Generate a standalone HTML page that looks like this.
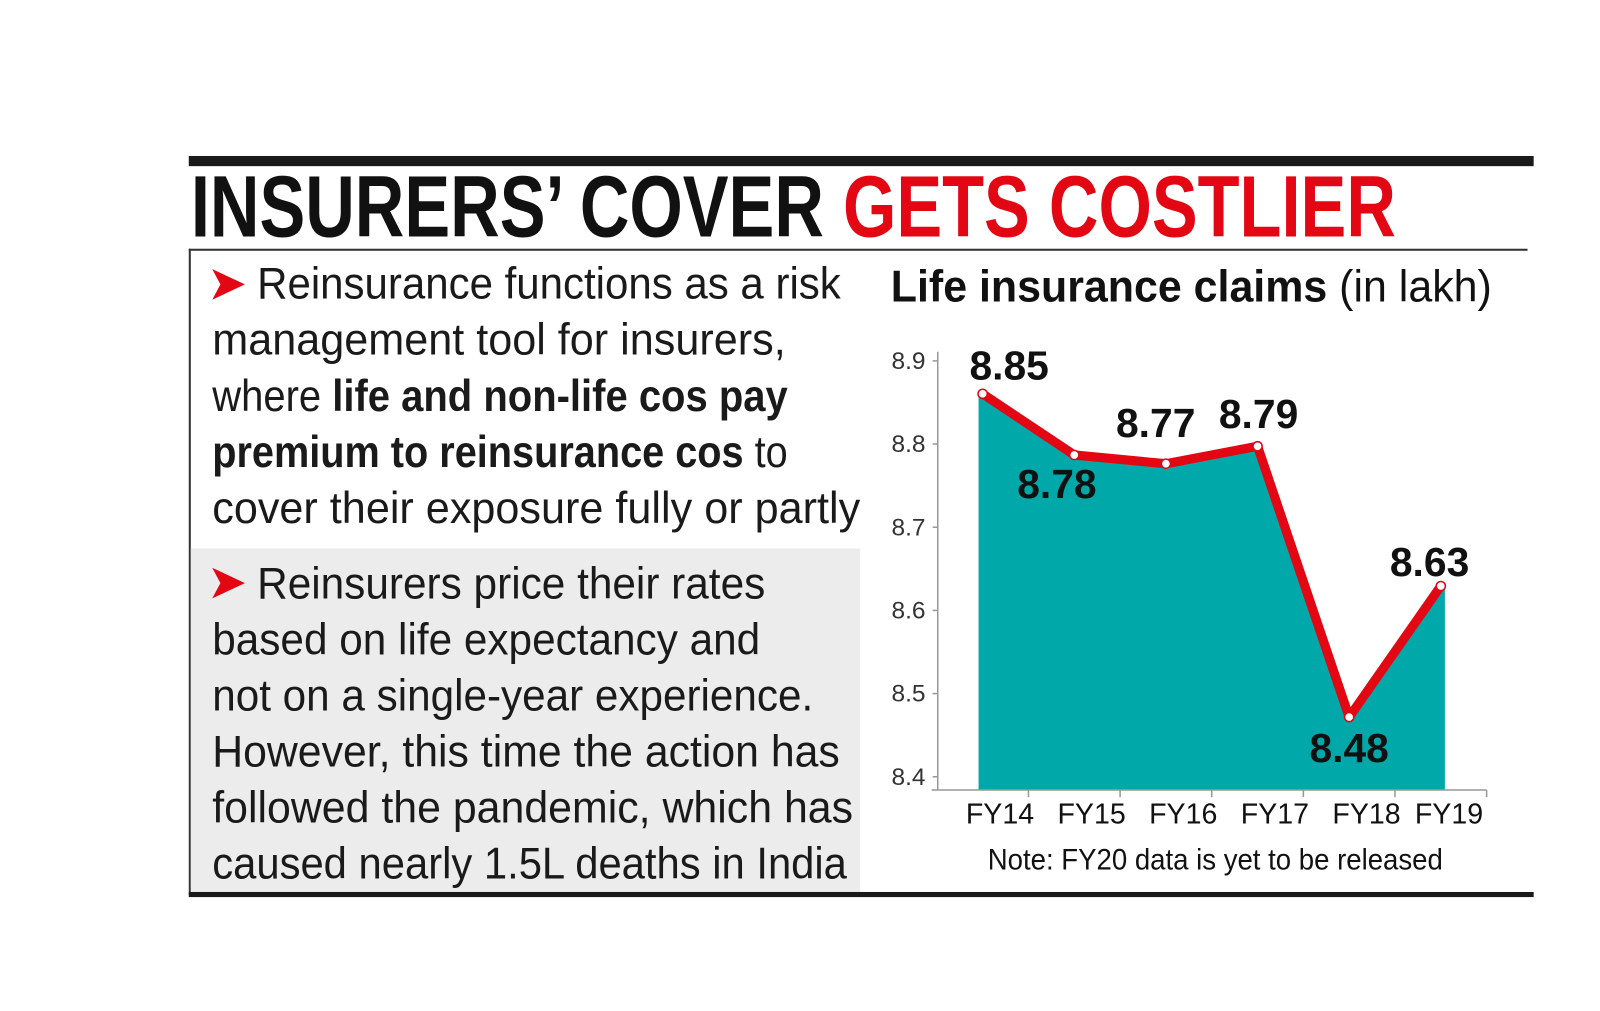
<!DOCTYPE html>
<html><head><meta charset="utf-8"><style>
html,body{margin:0;padding:0;background:#fff;}
svg{display:block;}
text{font-family:"Liberation Sans Narrow","Liberation Sans",sans-serif;}
</style></head><body>
<svg id="root" width="1600" height="1011" viewBox="0 0 1600 1011">
<g transform="scale(1.0204,1.0194)">
  <rect x="185" y="153" width="1318" height="10" fill="#1a1a1a"/>
  <text x="187" y="232" font-size="86" font-weight="bold" textLength="1181" lengthAdjust="spacingAndGlyphs" fill="#111">INSURERS’ COVER <tspan fill="#e30613">GETS COSTLIER</tspan></text>
  <rect x="185" y="244" width="1312" height="2" fill="#333"/>
  <rect x="185" y="244" width="2" height="634" fill="#333"/>
  <rect x="187" y="538" width="656" height="337" fill="#ececec"/>
  <rect x="185" y="875" width="1318" height="5" fill="#1a1a1a"/>

  <g font-size="44" fill="#1a1a1a">
    <polygon points="208,264 240,279 208,294 216,279" fill="#e30613"/>
    <text x="252" y="293" textLength="572" lengthAdjust="spacingAndGlyphs">Reinsurance functions as a risk</text>
    <text x="208" y="348" textLength="562" lengthAdjust="spacingAndGlyphs">management tool for insurers,</text>
    <text x="208" y="403" textLength="564" lengthAdjust="spacingAndGlyphs">where <tspan font-weight="bold">life and non-life cos pay</tspan></text>
    <text x="208" y="458" textLength="564" lengthAdjust="spacingAndGlyphs"><tspan font-weight="bold">premium to reinsurance cos</tspan> to</text>
    <text x="208" y="513" textLength="635" lengthAdjust="spacingAndGlyphs">cover their exposure fully or partly</text>
    <polygon points="208,557 240,572 208,587 216,572" fill="#e30613"/>
    <text x="252" y="587" textLength="498" lengthAdjust="spacingAndGlyphs">Reinsurers price their rates</text>
    <text x="208" y="642" textLength="537" lengthAdjust="spacingAndGlyphs">based on life expectancy and</text>
    <text x="208" y="697" textLength="589" lengthAdjust="spacingAndGlyphs">not on a single-year experience.</text>
    <text x="208" y="752" textLength="615" lengthAdjust="spacingAndGlyphs">However, this time the action has</text>
    <text x="208" y="807" textLength="628" lengthAdjust="spacingAndGlyphs">followed the pandemic, which has</text>
    <text x="208" y="862" textLength="622" lengthAdjust="spacingAndGlyphs">caused nearly 1.5L deaths in India</text>
  </g>

  <text x="873" y="296" font-size="44" textLength="589" lengthAdjust="spacingAndGlyphs" fill="#111"><tspan font-weight="bold">Life insurance claims</tspan> (in lakh)</text>
  <g id="chart"></g>
  <text x="968" y="853" font-size="29" textLength="446" lengthAdjust="spacingAndGlyphs" fill="#111">Note: FY20 data is yet to be released</text>
</g>
</svg>
<script>
const categories = ["FY14","FY15","FY16","FY17","FY18","FY19"];
const values = [8.85, 8.78, 8.77, 8.79, 8.48, 8.63];
const valueLabels = ["8.85","8.78","8.77","8.79","8.48","8.63"];
const yTicks = [8.9, 8.8, 8.7, 8.6, 8.5, 8.4];
const yTickLabels = ["8.9","8.8","8.7","8.6","8.5","8.4"];

const NS = "http://www.w3.org/2000/svg";
const g = document.getElementById("chart");
const yMin = 8.4, yMax = 8.9;
const plotBottom = 772, plotTop = 343.5;
function yScale(v){ return plotBottom - (v - yMin) / (yMax - yMin) * (plotBottom - plotTop); }
const x0 = 963, x1 = 1412;
function xScale(i){ return x0 + i * (x1 - x0) / (categories.length - 1); }
function tickY(v){ return 762 - (v - yMin) / 0.1 * 81.6; }
const axisY = 775, axisX = 919;
function mk(tag, attrs){ const e = document.createElementNS(NS, tag); for (const k in attrs) e.setAttribute(k, attrs[k]); g.appendChild(e); return e; }

// area
let d = "M" + (xScale(0)-4) + "," + axisY;
values.forEach((v,i)=>{ d += " L" + (i===0?xScale(0)-4:(i===values.length-1?xScale(i)+4:xScale(i))) + "," + yScale(v); });
d += " L" + (xScale(values.length-1)+4) + "," + axisY + " Z";
const area = mk("path", {d: d, fill: "#00a8aa"});



// axes
const ya = mk("line", {x1: axisX, y1: 345, x2: axisX, y2: axisY, stroke: "#999", "stroke-width": 1.5});


const xa = mk("line", {x1: axisX-6, y1: axisY, x2: 1457, y2: axisY, stroke: "#999", "stroke-width": 1.5});



yTicks.forEach((t,i)=>{
  const ty = tickY(t);
  const tk = mk("line", {x1: axisX-5, y1: ty, x2: axisX, y2: ty, stroke: "#999", "stroke-width": 1.5});
  
  
  const lb = mk("text", {x: 907, y: ty + 8, "font-size": 24, "text-anchor": "end", fill: "#333"});
  lb.textContent = yTickLabels[i];
  
  
});

categories.forEach((c,i)=>{
  if (i < categories.length) {
    const bx = (i === 0) ? axisX : (xScale(i-1) + xScale(i)) / 2 + 0;
  }
  const tx = xScale(i) + (xScale(1)-xScale(0))/2;
  const tk = mk("line", {x1: tx, y1: axisY, x2: tx, y2: axisY + 7, stroke: "#999", "stroke-width": 1.5});
  
  
  const lb = mk("text", {x: xScale(i) + (i === categories.length-1 ? 8 : 17), y: 808, "font-size": 28, "text-anchor": "middle", fill: "#111"});
  lb.textContent = c;
  
  
});

// line
const pts = values.map((v,i)=> xScale(i) + "," + yScale(v)).join(" ");
const line = mk("polyline", {points: pts, fill: "none", stroke: "#e30613", "stroke-width": 9, "stroke-linejoin": "round", "stroke-linecap": "round"});



const labelOffsets = [[26,-14],[-17,42],[-10,-26],[1,-18],[0,44],[-11,-10]];
values.forEach((v,i)=>{
  const p = mk("circle", {cx: xScale(i), cy: yScale(v), r: 4.5, fill: "#fff", stroke: "#e30613", "stroke-width": 1.5});
  
  
  const lb = mk("text", {x: xScale(i) + labelOffsets[i][0], y: yScale(v) + labelOffsets[i][1], "font-size": 40, "font-weight": "bold", "text-anchor": "middle", fill: "#111"});
  lb.textContent = valueLabels[i];
  
  
});
</script>
</body></html>
